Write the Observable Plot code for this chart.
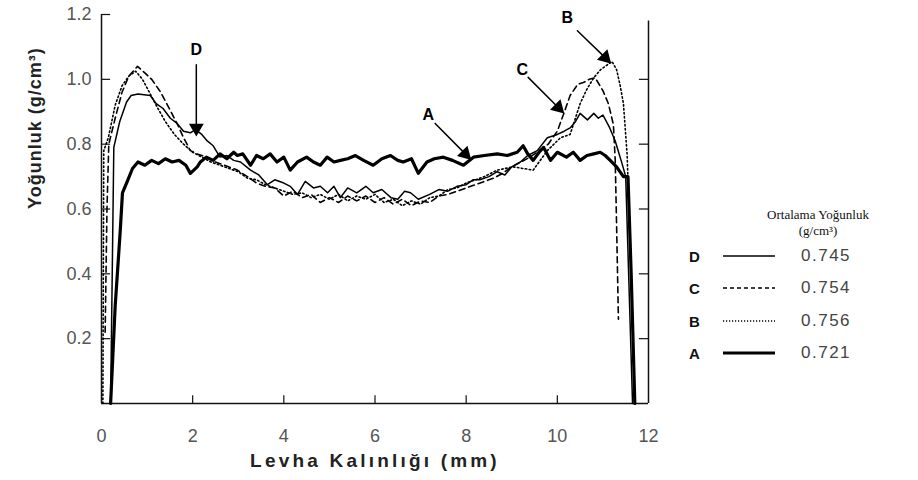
<!DOCTYPE html>
<html>
<head>
<meta charset="utf-8">
<script src="https://cdn.jsdelivr.net/npm/d3@7"></script>
<script src="https://cdn.jsdelivr.net/npm/@observablehq/plot@0.6"></script>
<style>
  html, body { margin: 0; padding: 0; background: #fff; }
  #wrap { position: relative; width: 918px; height: 480px; }
  #legend { position: absolute; left: 0; top: 0; font-family: "Liberation Sans", Arial, sans-serif; }
  #legend .hd { font-family: "Liberation Serif", "Times New Roman", serif; font-size: 13px; color: #111; text-align: center; width: 120px; position: absolute; left: 758px; white-space: nowrap; line-height: 16px; }
  #legend .row { position: absolute; left: 689px; height: 20px; display: flex; align-items: center; white-space: nowrap; }
  #legend .k { font-weight: bold; font-size: 15px; width: 32px; color: #111; }
  #legend svg { width: 56px; height: 10px; }
  #legend .v { font-size: 17px; color: #444; margin-left: 24px; letter-spacing: 1.5px; }
</style>
</head>
<body>
<div id="wrap"></div>
<script>
// ---- Data ----
const seriesNames = ["D", "C", "B", "A"];
const meanDensity = ["0.745", "0.754", "0.756", "0.721"];

const xTicks = [0, 2, 4, 6, 8, 10, 12];
const yTicks = [0.2, 0.4, 0.6, 0.8, 1.0, 1.2];

const densityA = [[0.2,0],[0.3,0.3],[0.41,0.53],[0.46,0.65],[0.55,0.68],[0.68,0.725],[0.8,0.745],[0.95,0.735],[1.1,0.75],[1.25,0.74],[1.4,0.755],[1.55,0.745],[1.7,0.75],[1.85,0.735],[1.95,0.71],[2.1,0.73],[2.17,0.745],[2.3,0.76],[2.45,0.75],[2.6,0.77],[2.75,0.755],[2.9,0.775],[2.98,0.765],[3.1,0.77],[3.27,0.735],[3.4,0.765],[3.55,0.755],[3.7,0.77],[3.85,0.745],[4.0,0.76],[4.14,0.72],[4.3,0.745],[4.5,0.76],[4.65,0.745],[4.8,0.735],[4.95,0.76],[5.1,0.745],[5.24,0.75],[5.4,0.755],[5.57,0.765],[5.75,0.75],[5.96,0.735],[6.15,0.755],[6.34,0.765],[6.5,0.75],[6.62,0.745],[6.8,0.755],[6.95,0.71],[7.14,0.745],[7.3,0.755],[7.5,0.76],[7.7,0.75],[7.94,0.735],[8.16,0.76],[8.4,0.765],[8.68,0.77],[8.9,0.765],[9.12,0.775],[9.25,0.795],[9.35,0.77],[9.47,0.75],[9.6,0.775],[9.7,0.79],[9.85,0.75],[10.0,0.775],[10.2,0.76],[10.35,0.775],[10.5,0.75],[10.65,0.765],[10.8,0.77],[10.94,0.775],[11.05,0.765],[11.16,0.75],[11.3,0.73],[11.45,0.70],[11.55,0.70],[11.62,0.4],[11.7,0]];

const densityB = [[0.03,0],[0.05,0.78],[0.15,0.82],[0.3,0.92],[0.45,0.98],[0.6,1.01],[0.75,1.025],[0.9,1.0],[1.05,0.96],[1.2,0.92],[1.4,0.87],[1.6,0.83],[1.8,0.8],[2.0,0.775],[2.2,0.76],[2.4,0.745],[2.6,0.735],[2.8,0.725],[3.0,0.715],[3.2,0.695],[3.4,0.69],[3.6,0.675],[3.8,0.665],[4.0,0.655],[4.2,0.645],[4.4,0.65],[4.6,0.635],[4.8,0.645],[5.0,0.63],[5.2,0.645],[5.4,0.625],[5.6,0.64],[5.8,0.63],[6.0,0.645],[6.2,0.62],[6.4,0.63],[6.6,0.61],[6.8,0.625],[7.0,0.615],[7.2,0.635],[7.4,0.64],[7.6,0.66],[7.8,0.665],[8.0,0.68],[8.2,0.69],[8.4,0.7],[8.68,0.72],[9.03,0.73],[9.25,0.725],[9.47,0.72],[9.78,0.78],[10.07,0.82],[10.28,0.83],[10.5,0.925],[10.65,0.97],[10.8,1.005],[10.95,1.03],[11.1,1.045],[11.2,1.055],[11.3,1.03],[11.38,0.98],[11.45,0.925],[11.53,0.77],[11.6,0.5],[11.7,0]];

const densityC = [[0.08,0.22],[0.12,0.6],[0.16,0.8],[0.3,0.88],[0.45,0.96],[0.6,1.01],[0.79,1.04],[0.95,1.02],[1.1,1.0],[1.3,0.96],[1.45,0.92],[1.67,0.86],[1.8,0.82],[1.95,0.78],[2.1,0.77],[2.3,0.76],[2.5,0.745],[2.7,0.735],[2.98,0.72],[3.2,0.7],[3.4,0.68],[3.6,0.67],[3.8,0.665],[4.0,0.64],[4.2,0.655],[4.4,0.635],[4.6,0.645],[4.8,0.62],[5.0,0.635],[5.2,0.62],[5.4,0.64],[5.6,0.625],[5.8,0.64],[6.0,0.62],[6.2,0.635],[6.4,0.615],[6.6,0.63],[6.8,0.61],[7.0,0.625],[7.2,0.62],[7.4,0.64],[7.6,0.645],[7.8,0.655],[8.0,0.665],[8.2,0.675],[8.4,0.685],[8.6,0.695],[8.8,0.71],[9.0,0.73],[9.2,0.745],[9.4,0.76],[9.6,0.78],[9.8,0.80],[10.0,0.84],[10.13,0.89],[10.28,0.95],[10.45,0.985],[10.57,0.99],[10.7,1.0],[10.83,1.005],[11.0,0.965],[11.12,0.925],[11.23,0.86],[11.27,0.75],[11.3,0.55],[11.34,0.26]];

const densityD = [[0.2,0],[0.27,0.79],[0.4,0.87],[0.55,0.93],[0.65,0.95],[0.8,0.955],[1.07,0.95],[1.2,0.925],[1.35,0.91],[1.51,0.88],[1.65,0.865],[1.8,0.84],[1.95,0.835],[2.06,0.845],[2.2,0.83],[2.32,0.81],[2.45,0.795],[2.6,0.76],[2.75,0.765],[2.9,0.75],[3.05,0.745],[3.27,0.72],[3.45,0.705],[3.64,0.675],[3.8,0.69],[4.0,0.68],[4.14,0.67],[4.3,0.645],[4.47,0.685],[4.65,0.665],[4.8,0.67],[4.96,0.65],[5.1,0.67],[5.24,0.635],[5.4,0.665],[5.6,0.65],[5.8,0.67],[5.96,0.65],[6.15,0.66],[6.35,0.635],[6.5,0.63],[6.65,0.655],[6.78,0.65],[6.95,0.63],[7.2,0.645],[7.4,0.66],[7.6,0.655],[7.8,0.67],[8.0,0.675],[8.15,0.69],[8.3,0.69],[8.5,0.7],[8.68,0.715],[8.85,0.705],[9.0,0.73],[9.19,0.745],[9.35,0.765],[9.56,0.78],[9.78,0.82],[10.0,0.83],[10.15,0.84],[10.28,0.85],[10.4,0.87],[10.5,0.895],[10.66,0.875],[10.8,0.895],[10.9,0.88],[11.0,0.89],[11.15,0.85],[11.27,0.81],[11.42,0.74],[11.5,0.70],[11.65,0]];

// Arrow annotations
const annLabels = ["D", "A", "C", "B"];
const annLabelX = [2.08, 7.17, 9.23, 10.22];
const annLabelY = [1.09, 0.89, 1.03, 1.19];
const annX1 = [2.08, 7.32, 9.36, 10.44];
const annY1 = [1.045, 0.864, 1.006, 1.15];
const annX2 = [2.08, 7.98, 10.02, 11.05];
const annY2 = [0.85, 0.77, 0.913, 1.067];
const annHeadAngle = [180, 135, 135, 135];

// ---- Build ----
const toRows = (arr) => arr.map(([x, y]) => ({x, y}));
const ann = annLabels.map((t, i) => ({t, lx: annLabelX[i], ly: annLabelY[i], x1: annX1[i], y1: annY1[i], x2: annX2[i], y2: annY2[i], a: annHeadAngle[i]}));

const styles = {
  A: {strokeWidth: 3.2},
  B: {strokeWidth: 1.6, strokeDasharray: "1.5,2.5"},
  C: {strokeWidth: 1.6, strokeDasharray: "6,4"},
  D: {strokeWidth: 1.5}
};
const dataBy = {A: densityA, B: densityB, C: densityC, D: densityD};

const tickLenX = 0.2;   // mm (inward tick length on y-axes)
const tickLenY = 0.024; // g/cm3 (inward tick length on x-axis)

const chart = Plot.plot({
  width: 918,
  height: 480,
  marginLeft: 101,
  marginRight: 270,
  marginTop: 14,
  marginBottom: 77,
  x: {domain: [0, 12]},
  y: {domain: [0, 1.2]},
  style: {fontFamily: "Liberation Sans, Arial, sans-serif", background: "#fff"},
  marks: [
    // frame lines
    Plot.ruleX([0], {stroke: "#111", strokeWidth: 1.5}),
    Plot.ruleX([12], {y1: 0, y2: 1.18, stroke: "#111", strokeWidth: 1.5}),
    Plot.ruleY([0], {stroke: "#111", strokeWidth: 1.5}),
    // inward ticks
    Plot.ruleY(yTicks, {x1: 0, x2: tickLenX, stroke: "#111", strokeWidth: 1.2}),
    Plot.ruleY(yTicks.filter(d => d < 1.2), {x1: 12 - tickLenX, x2: 12, stroke: "#111", strokeWidth: 1.2}),
    Plot.ruleX(xTicks.filter(d => d > 0 && d < 12), {y1: 0, y2: tickLenY, stroke: "#111", strokeWidth: 1.2}),
    // tick labels
    Plot.axisY(yTicks, {tickSize: 0, tickPadding: 10, label: null, fontSize: 18, fill: "#555", tickFormat: d => d.toFixed(1)}),
    Plot.axisX(xTicks, {tickSize: 0, tickPadding: 26, label: null, fontSize: 18, fill: "#555"}),
    // axis titles
    Plot.text(["Yoğunluk (g/cm³)"], {frameAnchor: "left", rotate: -90, dx: -66, fontSize: 18, fontWeight: "bold", fill: "#222", style: "letter-spacing:1px"}),
    Plot.text(["Levha Kalınlığı (mm)"], {frameAnchor: "bottom", dy: 63, fontSize: 19, fontWeight: "bold", fill: "#222"}),
    // curves
    ...["A", "B", "C", "D"].map(k => Plot.line(toRows(dataBy[k]), {x: "x", y: "y", stroke: "#000", strokeLinejoin: "round", ...styles[k]})),
    // annotations
    Plot.arrow(ann, {x1: "x1", y1: "y1", x2: "x2", y2: "y2", stroke: "#000", strokeWidth: 1.5, headLength: 0}),
    Plot.dot(ann, {x: "x2", y: "y2", symbol: "triangle", r: 5.5, fill: "#000", stroke: null, rotate: "a"}),
    Plot.text(ann, {x: "lx", y: "ly", text: "t", fontSize: 16, fontWeight: "bold", fill: "#000"})
  ]
});

const wrap = document.getElementById("wrap");
wrap.appendChild(chart);

// letter spacing on the axis titles (as in the reference)
chart.querySelectorAll("text").forEach(t => {
  if (t.textContent === "Levha Kalınlığı (mm)") t.setAttribute("letter-spacing", "3.2");
  if (t.textContent === "Yoğunluk (g/cm³)") t.setAttribute("letter-spacing", "1");
});

// legend
const legend = document.createElement("div");
legend.id = "legend";
let html = `<div class="hd" style="top:207px">Ortalama Yoğunluk</div><div class="hd" style="top:223px">(g/cm³)</div>`;
const rowCenter = [256, 288, 321, 353];
const dash = {D: "", C: "4,3", B: "1.2,1.8", A: ""};
const sw = {D: 1.3, C: 1.4, B: 1.4, A: 3.2};
seriesNames.forEach((k, i) => {
  html += `<div class="row" style="top:${rowCenter[i] - 10}px"><span class="k">${k}</span><svg><line x1="2" x2="54" y1="5" y2="5" stroke="#000" stroke-width="${sw[k]}" stroke-dasharray="${dash[k]}"/></svg><span class="v">${meanDensity[i]}</span></div>`;
});
legend.innerHTML = html;
wrap.appendChild(legend);
</script>
</body>
</html>
